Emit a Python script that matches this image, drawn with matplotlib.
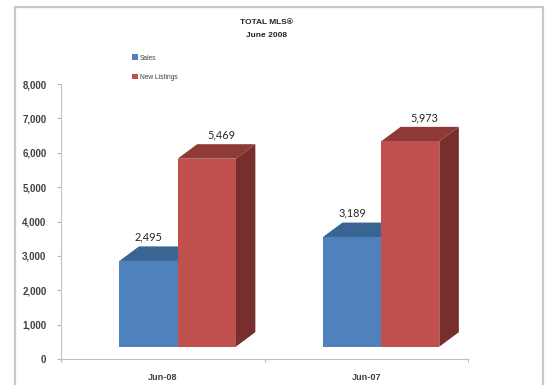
import matplotlib
matplotlib.use("Agg")
import matplotlib.pyplot as plt
from matplotlib.patches import Polygon, Rectangle, Patch
from matplotlib.ticker import FuncFormatter

months = ["Jun-08", "Jun-07"]
sales = [2495, 3189]
new_listings = [5469, 5973]
series_names = ["Sales", "New Listings"]
yticks = [0, 1000, 2000, 3000, 4000, 5000, 6000, 7000, 8000]

BLUE = ["#4F81BD", "#3A6491", "#2F5078"]
RED = ["#C0504D", "#8E3A37", "#772F2E"]
TICK_COLOR = "#404040"

W, H = 546, 385
plt.rcParams["font.family"] = ["Liberation Sans", "DejaVu Sans"]

fig = plt.figure(figsize=(W / 100, H / 100), dpi=100)
fig.patch.set_facecolor("white")

# outer chart border, runs off the bottom edge
fig.add_artist(Rectangle((15 / W, -0.05), 528 / W, 1.05 - 6.5 / H, transform=fig.transFigure,
                         facecolor="white", edgecolor="#C8C8C8", linewidth=1.6, zorder=-1))

ax = fig.add_axes([61 / W, 1 - 359 / H, 407 / W, 275 / H])
ax.set_xlim(-0.5, 1.5)
ax.set_ylim(0, 8000)
ax.patch.set_alpha(0)

# fake 3D: the floor lifts the front faces, depth pushes the back edge
bar_w = 0.286
group_shift = 0.073
floor = 358
depth_x = 0.096
depth_y = 422


def bar3d(x, value, colors):
    top = floor + value
    left, right = x, x + bar_w
    ax.add_patch(Polygon([(right, floor), (right + depth_x, floor + depth_y),
                          (right + depth_x, top + depth_y), (right, top)],
                         facecolor=colors[2], edgecolor="none", zorder=2))
    ax.add_patch(Polygon([(left, top), (left + depth_x, top + depth_y),
                          (right + depth_x, top + depth_y), (right, top)],
                         facecolor=colors[1], edgecolor="none", zorder=2))
    ax.bar(x, value, bar_w, bottom=floor, align="edge", color=colors[0],
           edgecolor="none", zorder=3)


for i in range(len(months)):
    center = i + group_shift
    bar3d(center - bar_w, sales[i], BLUE)
    bar3d(center, new_listings[i], RED)
    ax.text(center - bar_w / 2, floor + sales[i] + depth_y + 110,
            f"{sales[i]:,}", ha="center", va="bottom", fontsize=7.8, family="Lato",
            color="#262626", zorder=5)
    ax.text(center + bar_w / 2 + 0.07, floor + new_listings[i] + depth_y + 110,
            f"{new_listings[i]:,}", ha="center", va="bottom", fontsize=7.8, family="Lato",
            color="#262626", zorder=5)

ax.set_yticks(yticks)
ax.yaxis.set_major_formatter(FuncFormatter(lambda v, _: f"{int(v):,}"))
ax.set_xticks([-0.5, 0.5, 1.5])
ax.set_xticklabels([])
ax.set_xticks([0, 1], labels=months, minor=True)
ax.tick_params(axis="x", which="major", direction="out", length=2.5, color="#B8B8B8", width=0.8)
ax.tick_params(axis="x", which="minor", length=0, pad=10, labelsize=6.6, labelcolor=TICK_COLOR)
ax.tick_params(axis="y", direction="out", length=3, color="#B8B8B8", width=0.8,
               pad=7.5, labelsize=7, labelcolor=TICK_COLOR)
for label in ax.get_yticklabels() + ax.get_xticklabels(minor=True):
    label.set_fontweight("bold")
for side in ("top", "right"):
    ax.spines[side].set_visible(False)
for side in ("left", "bottom"):
    ax.spines[side].set_color("#C0C0C0")
    ax.spines[side].set_linewidth(0.8)

fig.text(266 / W, 1 - 22.5 / H, "TOTAL MLS®", ha="center", va="center",
         fontsize=6, fontweight="bold", color="#262626")
fig.text(266 / W, 1 - 35.5 / H, "June 2008", ha="center", va="center",
         fontsize=6, fontweight="bold", color="#262626")

handles = [Patch(facecolor=BLUE[0]), Patch(facecolor=RED[0])]
fig.legend(handles, series_names, loc="upper left", bbox_to_anchor=(131.5 / W, 1 - 54.5 / H),
           frameon=False, fontsize=4.8, labelcolor="#404040", labelspacing=1.85,
           handlelength=0.9, handleheight=0.9, handletextpad=0.3, borderpad=0, borderaxespad=0)

fig.savefig("out.png", dpi=100)
